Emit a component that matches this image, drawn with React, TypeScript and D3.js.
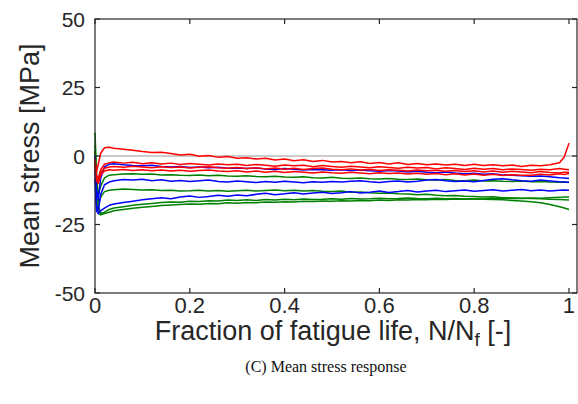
import React from "react";
import * as d3 from "d3";

const X = [0, 0.003, 0.007, 0.012, 0.02, 0.03, 0.04, 0.06, 0.08, 0.10, 0.12, 0.14, 0.16, 0.18, 0.20, 0.22, 0.24, 0.26, 0.28, 0.30, 0.32, 0.34, 0.36, 0.38, 0.40, 0.42, 0.44, 0.46, 0.48, 0.50, 0.52, 0.54, 0.56, 0.58, 0.60, 0.62, 0.64, 0.66, 0.68, 0.70, 0.72, 0.74, 0.76, 0.78, 0.80, 0.82, 0.84, 0.86, 0.88, 0.90, 0.92, 0.94, 0.96, 0.98, 0.99, 1.0];

const G1 = [2,-8,-14,-11,-8,-7,-6.8,-6.6,-6.5,-6.7,-6.6,-6.9,-6.8,-7.0,-7.1,-6.9,-7.2,-7.0,-7.3,-7.4,-7.2,-7.5,-7.6,-7.4,-7.7,-7.8,-7.6,-7.9,-8.0,-7.8,-8.1,-8.2,-8.0,-8.3,-8.4,-8.2,-8.5,-8.6,-8.4,-8.7,-8.8,-8.6,-8.9,-9.0,-8.8,-9.1,-9.0,-9.2,-9.3,-9.1,-9.4,-9.3,-9.5,-9.6,-9.5,-9.7];
const G2 = [4,-10,-18,-15,-13,-12.5,-12.3,-12.0,-12.2,-12.4,-12.3,-12.6,-12.5,-12.8,-12.7,-12.5,-12.8,-12.6,-12.9,-12.7,-12.5,-12.8,-12.6,-12.4,-12.7,-12.5,-12.8,-12.6,-12.9,-13.0,-12.8,-13.2,-13.1,-13.4,-13.6,-13.5,-13.8,-13.9,-14.1,-14.0,-14.3,-14.5,-14.4,-14.7,-14.8,-15.0,-14.9,-15.2,-15.3,-15.4,-15.5,-15.6,-15.8,-15.9,-16.0,-16.1];
const G3 = [8.5,-5,-18,-21,-20.5,-19.5,-19,-18.5,-18.0,-17.6,-17.3,-17.0,-16.8,-16.9,-16.5,-16.6,-16.3,-16.4,-16.1,-16.2,-16.0,-16.2,-15.9,-16.1,-15.8,-16.0,-15.7,-15.9,-15.8,-15.6,-15.8,-15.5,-15.7,-15.6,-15.4,-15.6,-15.5,-15.3,-15.5,-15.6,-15.4,-15.6,-15.5,-15.7,-15.6,-15.8,-15.9,-16.0,-16.2,-16.4,-16.7,-17.1,-17.7,-18.5,-19.0,-19.5];
const G4 = [0,-16,-21,-21.5,-21,-20.5,-20,-19.5,-19.1,-18.7,-18.4,-18.1,-17.9,-17.7,-17.5,-17.6,-17.3,-17.4,-17.1,-17.2,-17.0,-17.1,-16.8,-16.9,-16.7,-16.8,-16.5,-16.6,-16.4,-16.5,-16.3,-16.4,-16.2,-16.3,-16.1,-16.2,-16.0,-16.1,-15.9,-16.0,-15.8,-15.9,-15.7,-15.8,-15.6,-15.7,-15.5,-15.6,-15.4,-15.5,-15.3,-15.4,-15.2,-15.1,-15.0,-15.0];

const B1 = [0,-12,-16,-8,-4,-3,-2.8,-3.2,-3.5,-3.6,-3.4,-3.8,-4.0,-3.8,-4.2,-4.0,-4.3,-4.1,-4.5,-4.4,-4.6,-4.4,-4.7,-4.9,-4.6,-4.8,-5.1,-4.9,-5.0,-5.2,-5.0,-5.3,-5.1,-5.4,-5.6,-5.3,-5.5,-5.8,-5.6,-5.9,-6.1,-5.8,-6.2,-6.5,-6.3,-6.7,-6.5,-6.9,-7.0,-7.2,-7.4,-7.3,-7.6,-7.9,-8.0,-8.2];
const B2 = [-5,-18,-20,-14,-10.5,-9.5,-9.0,-8.6,-8.8,-8.5,-9.0,-8.7,-9.2,-8.9,-9.3,-9.0,-8.8,-9.3,-9.5,-9.1,-9.4,-9.7,-9.3,-9.6,-9.2,-9.5,-9.8,-9.4,-9.6,-9.3,-9.5,-9.2,-9.0,-9.4,-9.7,-9.3,-9.1,-9.5,-9.2,-8.8,-8.6,-9.0,-9.3,-9.1,-9.4,-8.9,-8.5,-8.3,-8.7,-9.0,-9.2,-8.8,-9.1,-9.4,-9.5,-9.6];
const B3 = [-8,-20,-21,-20,-19,-18,-17.5,-17,-16.5,-16,-15.6,-15.2,-15.6,-15.0,-14.6,-15.1,-14.8,-14.3,-14.7,-14.2,-14.5,-14.0,-13.6,-14.1,-13.8,-13.4,-13.9,-13.5,-13.2,-13.7,-13.4,-13.0,-13.5,-13.2,-12.8,-13.3,-13.0,-12.6,-13.1,-12.8,-12.5,-13.0,-12.7,-12.4,-12.9,-12.6,-12.3,-12.8,-12.5,-12.2,-12.7,-12.4,-12.8,-12.5,-12.4,-12.5];

const R1 = [-2,-6,-3,1,3,3.2,2.8,2.5,2.1,1.6,1.3,1.4,0.9,0.4,0.6,-0.1,0.2,-0.5,-0.2,-0.8,-0.6,-1.1,-0.8,-1.5,-1.1,-1.7,-1.4,-2.0,-1.6,-2.2,-2.0,-2.5,-2.1,-2.7,-2.4,-2.9,-2.5,-3.1,-2.7,-3.2,-2.9,-3.3,-3.0,-3.5,-3.0,-3.5,-3.2,-3.6,-3.3,-3.8,-3.4,-3.6,-3.2,-2.5,-0.4,4.7];
const R2 = [-1,-7,-8,-5,-3,-2.5,-2.2,-2.6,-2.3,-2.8,-2.5,-2.9,-2.6,-3.1,-2.7,-3.0,-3.3,-2.9,-3.2,-3.0,-3.5,-3.1,-3.4,-3.7,-3.3,-3.6,-3.4,-3.9,-3.5,-3.8,-4.1,-3.7,-4.0,-4.3,-3.9,-4.2,-4.5,-4.1,-4.4,-4.2,-4.7,-4.3,-4.6,-4.9,-4.5,-4.8,-4.6,-5.0,-4.7,-4.9,-5.2,-4.8,-5.0,-4.6,-4.8,-5.0];
const R3 = [-2,-8,-9,-6,-4.5,-4.0,-3.8,-4.1,-3.7,-4.0,-4.3,-3.9,-4.2,-4.0,-4.4,-4.1,-3.9,-4.3,-4.5,-4.2,-4.6,-4.3,-4.7,-4.4,-4.8,-4.5,-4.9,-4.6,-4.4,-4.8,-5.0,-4.7,-5.1,-4.9,-5.3,-5.0,-5.2,-5.5,-5.1,-5.4,-5.2,-5.6,-5.3,-5.7,-5.4,-5.8,-5.5,-5.9,-5.6,-5.8,-6.1,-5.7,-6.0,-6.2,-5.9,-6.0];
const R4 = [-3,-9,-10,-7,-5.5,-5.0,-5.2,-4.9,-5.3,-5.0,-5.4,-5.1,-5.5,-5.2,-5.6,-5.3,-5.1,-5.5,-5.7,-5.4,-5.8,-5.5,-5.9,-5.6,-6.0,-5.7,-5.9,-6.2,-5.8,-6.1,-6.3,-5.9,-6.2,-6.5,-6.1,-6.4,-6.2,-6.6,-6.3,-6.7,-6.4,-6.8,-6.5,-6.9,-6.6,-7.0,-6.7,-7.1,-6.8,-7.0,-7.0,-6.7,-6.9,-6.5,-6.8,-6.4];

const SERIES: { ys: number[]; color: string }[] = [
  { ys: G1, color: "#008000" },
  { ys: G2, color: "#008000" },
  { ys: G3, color: "#008000" },
  { ys: G4, color: "#008000" },
  { ys: B1, color: "#0000ff" },
  { ys: B2, color: "#0000ff" },
  { ys: B3, color: "#0000ff" },
  { ys: R1, color: "#ff0000" },
  { ys: R2, color: "#ff0000" },
  { ys: R3, color: "#ff0000" },
  { ys: R4, color: "#ff0000" },
];

const X_TICKS = [0, 0.2, 0.4, 0.6, 0.8, 1];
const Y_TICKS = [-50, -25, 0, 25, 50];

const W = 578;
const H = 404;
const L = 95, R = 577, T = 19, B = 293;
const AX = "#262626";
const SANS = "'Liberation Sans', Arial, Helvetica, sans-serif";

export default function App() {
  const x = d3.scaleLinear().domain([0, 1.0169]).range([L, R]);
  const y = d3.scaleLinear().domain([-50, 50]).range([B, T]);
  const line = d3
    .line<number>()
    .x((_, i) => x(X[i]))
    .y((d) => y(d));
  const tl = 5;
  return (
    <svg
      width={W}
      height={H}
      style={{ position: "absolute", left: 0, top: 0, background: "#fff" }}
    >
      <rect x={0} y={0} width={W} height={H} fill="#fff" />
      <line x1={L} x2={R} y1={y(0)} y2={y(0)} stroke="#9a9a9a" strokeWidth={1.2} />
      <g fill="none" strokeWidth={1.5} strokeLinejoin="round">
        {SERIES.map((s, i) => (
          <path key={i} d={line(s.ys) || ""} stroke={s.color} />
        ))}
      </g>
      <rect x={L} y={T} width={R - L} height={B - T} fill="none" stroke={AX} strokeWidth={1.2} />
      {X_TICKS.map((t) => (
        <g key={"x" + t}>
          <line x1={x(t)} x2={x(t)} y1={B} y2={B - tl} stroke={AX} strokeWidth={1.2} />
          <line x1={x(t)} x2={x(t)} y1={T} y2={T + tl} stroke={AX} strokeWidth={1.2} />
          <text x={x(t)} y={313} textAnchor="middle" fontFamily={SANS} fontSize={22} fill={AX}>
            {String(t)}
          </text>
        </g>
      ))}
      {Y_TICKS.map((t) => (
        <g key={"y" + t}>
          <line x1={L} x2={L + tl} y1={y(t)} y2={y(t)} stroke={AX} strokeWidth={1.2} />
          <line x1={R} x2={R - tl} y1={y(t)} y2={y(t)} stroke={AX} strokeWidth={1.2} />
          <text x={85} y={y(t) + 7.5} textAnchor="end" fontFamily={SANS} fontSize={21} fill={AX}>
            {String(t)}
          </text>
        </g>
      ))}
      <text
        transform={`translate(39,${(T + B) / 2}) rotate(-90)`}
        textAnchor="middle"
        fontFamily={SANS}
        fontSize={27}
        fill={AX}
      >
        Mean stress [MPa]
      </text>
      <text x={333} y={340} textAnchor="middle" fontFamily={SANS} fontSize={27} fill={AX}>
        Fraction of fatigue life, N/N
        <tspan fontSize={19} dy={6}>f</tspan>
        <tspan dy={-6}> [-]</tspan>
      </text>
      <text
        x={326}
        y={372}
        textAnchor="middle"
        fontFamily="'Liberation Serif', 'Times New Roman', serif"
        fontSize={16}
        fill="#111"
      >
        (C) Mean stress response
      </text>
    </svg>
  );
}
